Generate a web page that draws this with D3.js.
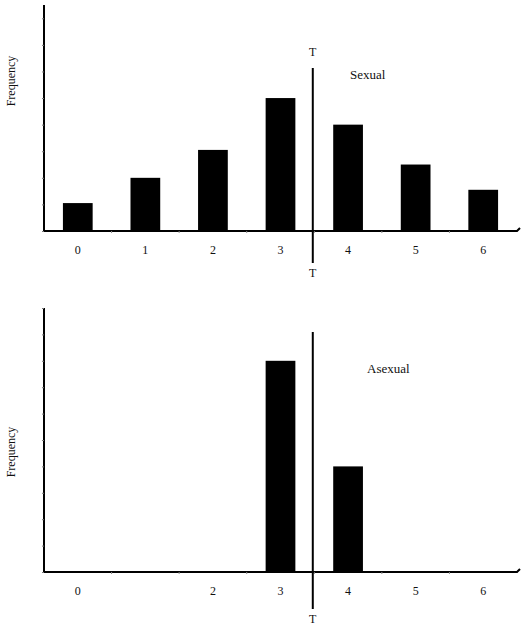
<!DOCTYPE html>
<html>
<head>
<meta charset="utf-8">
<script src="https://cdn.jsdelivr.net/npm/d3@7"></script>
<style>
  body { margin: 0; background: #fff; }
  svg text { font-family: "Liberation Serif", "DejaVu Serif", serif; fill: #111; }
</style>
</head>
<body>
<svg id="chart" width="527" height="629"></svg>
<script>
// categories on the x axis
let categories = ["0", "1", "2", "3", "4", "5", "6"];
// tick labels as printed on each panel (the lower one drops the "1")
let sexualTicks = ["0", "1", "2", "3", "4", "5", "6"];
let asexualTicks = ["0", "", "2", "3", "4", "5", "6"];
// frequencies
let sexualValues = [2.1, 4, 6.1, 10, 8, 5, 3.1];
let asexualValues = [0, 0, 0, 16, 8, 0, 0];

let svg = d3.select("#chart");

function drawPanel(cfg) {
    let x = d3.scaleBand()
        .domain(categories)
        .range([44, 517])
        .paddingInner(0.56)
        .paddingOuter(0.28);

    let y = d3.scaleLinear()
        .domain([0, cfg.max])
        .range([cfg.bottom, cfg.top]);

    let g = svg.append("g");

    // bars
    g.selectAll("rect.bar")
        .data(cfg.values.map((v, i) => ({ key: categories[i], v: v })).filter(d => d.v > 0))
        .enter().append("rect")
        .attr("class", "bar")
        .attr("x", d => x(d.key))
        .attr("width", x.bandwidth())
        .attr("y", d => y(d.v))
        .attr("height", d => y(0) - y(d.v))
        .attr("fill", "#000");

    // y axis with faint minor ticks, no labels
    let yAxis = g.append("g")
        .attr("transform", "translate(44,0)")
        .call(d3.axisLeft(y).ticks(cfg.max / 2).tickSize(2).tickFormat(""));
    yAxis.select(".domain").attr("stroke", "#000").attr("stroke-width", 2).attr("d", `M0,${cfg.top}V${cfg.bottom}`);
    yAxis.selectAll(".tick line").attr("stroke", "#777");

    // x axis baseline
    let step = x.step();
    let xAxis = g.append("g")
        .attr("transform", "translate(0," + cfg.bottom + ")")
        .call(d3.axisBottom(x).tickSize(0).tickPadding(14)
            .tickFormat((d, i) => cfg.ticks[i]));
    xAxis.select(".domain").attr("stroke", "#000").attr("stroke-width", 2)
        .attr("d", "M44,0H517l3,-3");
    xAxis.selectAll("text").style("font-size", "12px");

    // little boundary marks between categories
    g.selectAll("line.mark")
        .data(categories.slice(1))
        .enter().append("line")
        .attr("class", "mark")
        .attr("x1", d => x(d) - (step - x.bandwidth()) / 2)
        .attr("x2", d => x(d) - (step - x.bandwidth()) / 2)
        .attr("y1", cfg.bottom)
        .attr("y2", cfg.bottom + 2)
        .attr("stroke", "#888");

    // threshold line T, just left of the gap centre between 3 and 4
    let tx = (x("3") + x("4") + x.bandwidth()) / 2 - 1.5;
    g.append("line")
        .attr("x1", tx).attr("x2", tx)
        .attr("y1", cfg.tTop).attr("y2", cfg.tBottom)
        .attr("stroke", "#000").attr("stroke-width", 2);

    if (cfg.tLabelTop) {
        g.append("text").attr("x", tx).attr("y", cfg.tTop - 12)
            .attr("text-anchor", "middle").style("font-size", "12px").text("T");
    }
    g.append("text").attr("x", tx).attr("y", cfg.tBottom + 14)
        .attr("text-anchor", "middle").style("font-size", "12px").text("T");

    // panel label
    g.append("text")
        .attr("x", cfg.labelX).attr("y", cfg.labelY)
        .style("font-size", "13px")
        .text(cfg.label);

    // y axis title
    g.append("text")
        .attr("transform", "translate(15," + cfg.titleY + ") rotate(-90)")
        .attr("text-anchor", "middle")
        .style("font-size", "12px")
        .text("Frequency");
}

drawPanel({
    values: sexualValues, ticks: sexualTicks, max: 17,
    top: 5, bottom: 231, tTop: 68, tBottom: 263, tLabelTop: true,
    label: "Sexual", labelX: 350, labelY: 79, titleY: 81
});

drawPanel({
    values: asexualValues, ticks: asexualTicks, max: 20,
    top: 308, bottom: 572, tTop: 332, tBottom: 609, tLabelTop: false,
    label: "Asexual", labelX: 367, labelY: 373, titleY: 452
});
</script>
</body>
</html>
